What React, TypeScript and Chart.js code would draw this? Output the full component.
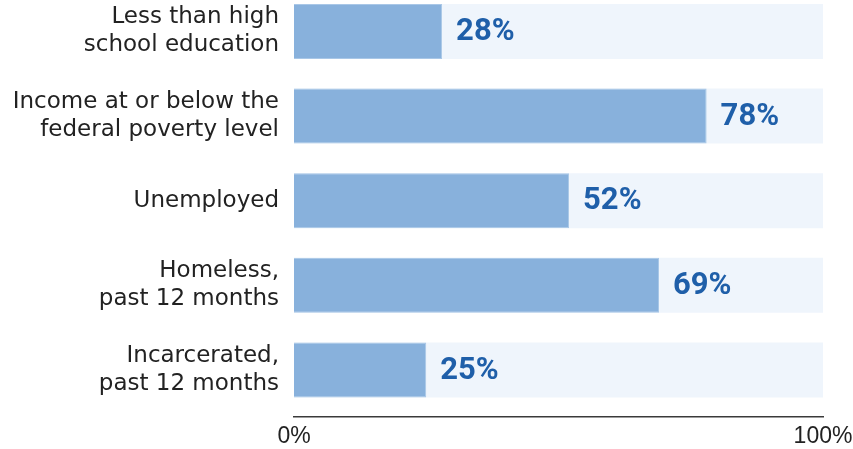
import React, { useEffect, useRef } from "react";
import { Chart, registerables } from "chart.js";

Chart.register(...registerables);

const categories: string[][] = [
  ["Less than high", "school education"],
  ["Income at or below the", "federal poverty level"],
  ["Unemployed"],
  ["Homeless,", "past 12 months"],
  ["Incarcerated,", "past 12 months"],
];
const values: number[] = [28, 78, 52, 69, 25];
const fullScale: number[] = [100, 100, 100, 100, 100];
const xTicks: number[] = [0, 100];
const xTickLabels: string[] = ["0%", "100%"];

const VALUE_FONT = "Roboto, 'Liberation Sans', sans-serif";
const TICK_FONT = "'Liberation Sans', Arial, sans-serif";
const LABEL_FONT = "'DejaVu Sans', 'Open Sans', sans-serif";

const valueLabelPlugin = {
  id: "valueLabels",
  afterDatasetsDraw(chart: any) {
    const ctx = chart.ctx;
    const meta = chart.getDatasetMeta(0);
    ctx.save();
    ctx.font = `bold 31px ${VALUE_FONT}`;
    ctx.fillStyle = "#1f5fa9";
    ctx.textAlign = "left";
    ctx.textBaseline = "middle";
    meta.data.forEach((bar: any, i: number) => {
      ctx.fillText(`${values[i]}%`, bar.x + 14, bar.y + 1);
    });
    ctx.restore();
  },
};

export default function App() {
  const ref = useRef<HTMLCanvasElement>(null);
  useEffect(() => {
    if (!ref.current) return;
    const chart = new Chart(ref.current, {
      type: "bar",
      data: {
        datasets: [
          {
            data: values.map((v, i) => ({ x: v, y: i })),
            backgroundColor: "#88b1dc",
            borderColor: "#a9c7e7",
            borderWidth: 1,
            grouped: false,
            categoryPercentage: 1,
            barPercentage: 0.65,
          } as any,
          {
            data: fullScale.map((v, i) => ({ x: v, y: i })),
            backgroundColor: "#eff5fc",
            borderWidth: 0,
            grouped: false,
            categoryPercentage: 1,
            barPercentage: 0.65,
          } as any,
        ],
      },
      options: {
        indexAxis: "y",
        responsive: false,
        animation: false,
        events: [],
        layout: { padding: { top: 0, right: 30, bottom: 0, left: 0 } },
        plugins: {
          legend: { display: false },
          tooltip: { enabled: false },
        },
        scales: {
          y: {
            type: "linear",
            reverse: true,
            offset: false,
            bounds: "ticks",
            min: -0.372,
            max: 4.556,
            grid: { display: false, drawTicks: false, offset: false },
            border: { display: false },
            afterFit: (s: any) => {
              s.width = 294;
              s.paddingTop = 0;
              s.paddingBottom = 0;
            },
            ticks: {
              stepSize: 1,
              autoSkip: false,
              includeBounds: false,
              padding: 15,
              color: "#222222",
              font: { family: LABEL_FONT, size: 23, lineHeight: 1.22 },
              callback: (v: any) =>
                Number.isInteger(v) && categories[v] ? categories[v] : "",
            },
          },
          x: {
            type: "linear",
            min: 0,
            max: 100,
            grid: { display: false, drawTicks: false },
            border: { display: true, color: "#3a3a3a", width: 1.5 },
            afterFit: (s: any) => {
              s.height = 32;
              s.paddingLeft = 0;
              s.paddingRight = 0;
            },
            ticks: {
              stepSize: 100,
              maxRotation: 0,
              autoSkip: false,
              padding: 6,
              color: "#222222",
              font: { family: TICK_FONT, size: 23 },
              callback: (v: any) => {
                const idx = xTicks.indexOf(v);
                return idx >= 0 ? xTickLabels[idx] : "";
              },
            },
          },
        },
      } as any,
      plugins: [valueLabelPlugin],
    });
    return () => chart.destroy();
  }, []);
  return (
    <div style={{ position: "absolute", left: 0, top: 0, width: 853, height: 449 }}>
      <canvas ref={ref} width={853} height={449} style={{ display: "block" }} />
    </div>
  );
}
